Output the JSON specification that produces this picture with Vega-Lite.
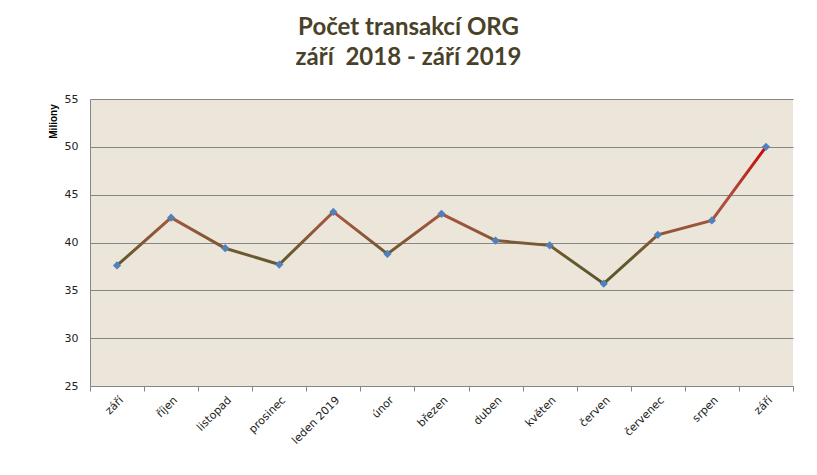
{
  "$schema": "https://vega.github.io/schema/vega-lite/v6.json",
  "autosize": "none",
  "width": 703,
  "height": 287,
  "padding": {"left": 90, "top": 99, "right": 24, "bottom": 89},
  "background": "white",
  "config": {
    "view": {"fill": "#ece5d9", "stroke": null},
    "font": "DejaVu Sans"
  },
  "title": {
    "text": ["Počet transakcí ORG", "září\u00a0 2018 - září 2019"],
    "font": "Lato",
    "fontSize": 24,
    "fontWeight": "bold",
    "color": "#4a4228",
    "lineHeight": 30,
    "anchor": "middle",
    "dx": -33,
    "offset": 23
  },
  "data": {
    "values": [
      {"i": 1, "mesic": "září", "v": 37.6},
      {"i": 2, "mesic": "říjen", "v": 42.6},
      {"i": 3, "mesic": "listopad", "v": 39.4},
      {"i": 4, "mesic": "prosinec", "v": 37.7},
      {"i": 5, "mesic": "leden 2019", "v": 43.2},
      {"i": 6, "mesic": "únor", "v": 38.8},
      {"i": 7, "mesic": "březen", "v": 43.0},
      {"i": 8, "mesic": "duben", "v": 40.2},
      {"i": 9, "mesic": "květen", "v": 39.7},
      {"i": 10, "mesic": "červen", "v": 35.7},
      {"i": 11, "mesic": "červenec", "v": 40.8},
      {"i": 12, "mesic": "srpen", "v": 42.3},
      {"i": 13, "mesic": "září ", "v": 50.0}
    ]
  },
  "encoding": {
    "x": {
      "field": "mesic",
      "type": "ordinal",
      "sort": {"field": "i"},
      "scale": {"type": "band", "paddingInner": 0, "paddingOuter": 0},
      "axis": {
        "title": null,
        "labelAngle": -45,
        "labelFontSize": 11,
        "labelColor": "#222222",
        "labelFont": "DejaVu Sans",
        "tickBand": "extent",
        "tickSize": 5,
        "tickColor": "#868686",
        "domainColor": "#868686",
        "grid": false,
        "labelPadding": 3
      }
    },
    "y": {
      "field": "v",
      "type": "quantitative",
      "scale": {"domain": [25, 55], "nice": false, "zero": false},
      "axis": {
        "title": "Miliony",
        "titleFont": "Liberation Sans",
        "titleFontSize": 10,
        "titleFontWeight": "bold",
        "titleColor": "#000000",
        "titleAngle": -90,
        "titleX": -37,
        "titleY": 22,
        "titleAlign": "center",
        "titleBaseline": "middle",
        "values": [25, 30, 35, 40, 45, 50, 55],
        "labelFontSize": 11,
        "labelColor": "#222222",
        "labelFont": "DejaVu Sans",
        "ticks": false,
        "labelPadding": 12,
        "grid": true,
        "gridColor": "#868686",
        "gridWidth": 1,
        "gridOpacity": 1,
        "domainColor": "#868686"
      }
    }
  },
  "layer": [
    {
      "mark": {
        "type": "line",
        "strokeWidth": 3,
        "color": {
          "gradient": "linear",
          "x1": 0, "y1": 1, "x2": 0, "y2": 0,
          "stops": [
            {"offset": 0, "color": "#55552a"},
            {"offset": 0.22, "color": "#6b5a30"},
            {"offset": 0.45, "color": "#a0553e"},
            {"offset": 0.62, "color": "#aa5040"},
            {"offset": 1, "color": "#cc0808"}
          ]
        }
      }
    },
    {
      "mark": {"type": "point", "shape": "diamond", "filled": true, "size": 68, "color": "#4f81bd", "opacity": 1}
    }
  ]
}
